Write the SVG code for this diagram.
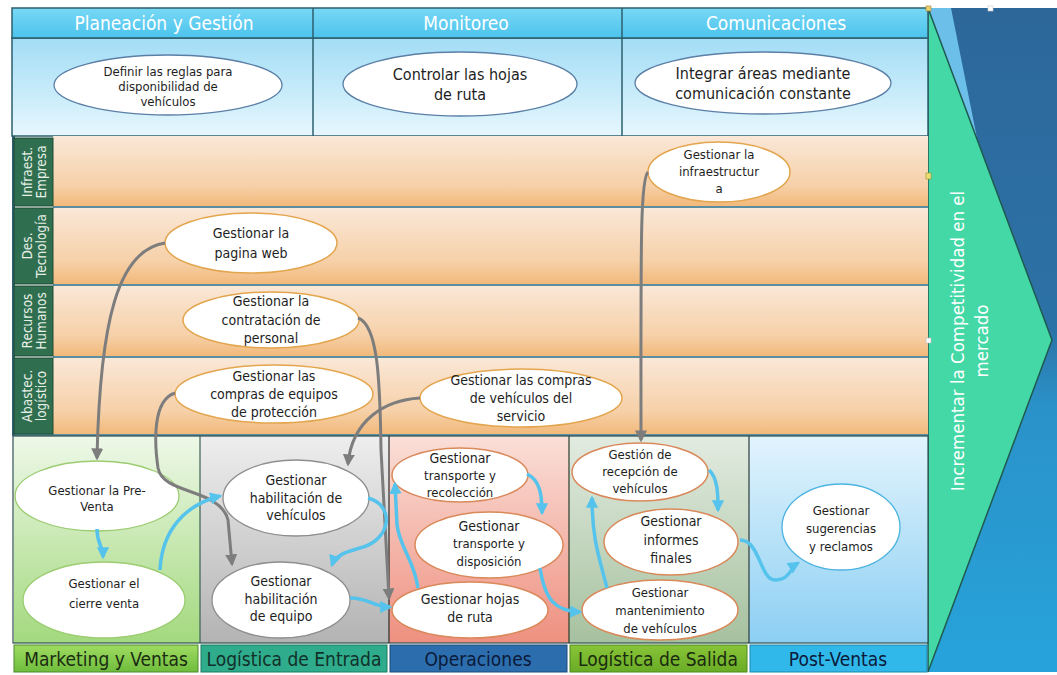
<svg xmlns="http://www.w3.org/2000/svg" width="1057" height="675" viewBox="0 0 1057 675">
<defs>
<linearGradient id="gHead" x1="0" y1="0" x2="0" y2="1"><stop offset="0" stop-color="#78d8f5"/><stop offset="1" stop-color="#4cc3ec"/></linearGradient>
<linearGradient id="gTop" x1="0" y1="0" x2="0" y2="1"><stop offset="0" stop-color="#a2ddf6"/><stop offset="1" stop-color="#e6f7fd"/></linearGradient>
<linearGradient id="gOr" x1="0" y1="0" x2="0" y2="1"><stop offset="0" stop-color="#fae8d8"/><stop offset="0.7" stop-color="#f6d0a8"/><stop offset="1" stop-color="#f2b878"/></linearGradient>
<linearGradient id="gMk" x1="0" y1="0" x2="0" y2="1"><stop offset="0" stop-color="#eef8e8"/><stop offset="1" stop-color="#a3d97e"/></linearGradient>
<linearGradient id="gEn" x1="0" y1="0" x2="0" y2="1"><stop offset="0" stop-color="#eeeeee"/><stop offset="1" stop-color="#b3b3b3"/></linearGradient>
<linearGradient id="gOp" x1="0" y1="0" x2="0" y2="1"><stop offset="0" stop-color="#fadfd8"/><stop offset="1" stop-color="#ee9080"/></linearGradient>
<linearGradient id="gSa" x1="0" y1="0" x2="0" y2="1"><stop offset="0" stop-color="#e2ebe0"/><stop offset="1" stop-color="#a6c19f"/></linearGradient>
<linearGradient id="gPo" x1="0" y1="0" x2="0" y2="1"><stop offset="0" stop-color="#e2f4fd"/><stop offset="1" stop-color="#8ccff3"/></linearGradient>
<linearGradient id="gBg" x1="0" y1="0" x2="0" y2="1"><stop offset="0" stop-color="#2d679a"/><stop offset="0.48" stop-color="#2c72a6"/><stop offset="0.6" stop-color="#2a92c8"/><stop offset="1" stop-color="#27a3db"/></linearGradient>
<linearGradient id="gMkB" x1="0" y1="0" x2="0" y2="1"><stop offset="0" stop-color="#9edc62"/><stop offset="1" stop-color="#6fbc3c"/></linearGradient>
<linearGradient id="gSaB" x1="0" y1="0" x2="0" y2="1"><stop offset="0" stop-color="#88c438"/><stop offset="1" stop-color="#6aac26"/></linearGradient>
<marker id="aG" viewBox="0 0 10 10" refX="8" refY="5" markerWidth="4" markerHeight="4" orient="auto" markerUnits="strokeWidth"><path d="M0,0 L10,5 L0,10 z" fill="#7d7d7d"/></marker>
<marker id="aB" viewBox="0 0 10 10" refX="8" refY="5" markerWidth="3.5" markerHeight="3.5" orient="auto" markerUnits="strokeWidth"><path d="M0,0 L10,5 L0,10 z" fill="#55c3ec"/></marker>
</defs>
<style>
text{font-family:"DejaVu Sans","Liberation Sans",sans-serif;font-stretch:condensed;}
.t{font-size:13px;fill:#1e1e1e;text-anchor:middle;}
.t14{font-size:14px;fill:#1e1e1e;text-anchor:middle;}
.t16{font-size:16px;fill:#1e1e1e;text-anchor:middle;}
.hd{font-size:19px;fill:#ffffff;text-anchor:middle;}
.bt{font-size:19px;text-anchor:middle;}
.lb{font-size:13.5px;fill:#e6efe6;text-anchor:middle;}
.eTop{fill:#ffffff;stroke:#5b7fa6;stroke-width:1.3;}
.eSup{fill:#ffffff;stroke:#e3a54d;stroke-width:1.5;}
.eMk{fill:#ffffff;stroke:#9ccc72;stroke-width:1.3;}
.eEn{fill:#ffffff;stroke:#8e8e8e;stroke-width:1.3;}
.eOp{fill:#ffffff;stroke:#d9895a;stroke-width:1.5;}
.ePo{fill:#ffffff;stroke:#4bb3e0;stroke-width:1.3;}
.cg{fill:none;stroke:#7d7d7d;stroke-width:3;marker-end:url(#aG);}
.cb{fill:none;stroke:#55c3ec;stroke-width:3.5;marker-end:url(#aB);}
.div{stroke:#2d5f6e;stroke-width:1.5;}
.rowline{stroke:#5c8ea2;stroke-width:2;}
</style>
<rect width="1057" height="675" fill="#ffffff"/>
<!-- right background and triangle -->
<rect x="928" y="8" width="129" height="664" fill="url(#gBg)"/>
<polygon points="928,8 951,8 977,138 950,70" fill="#6cbfe8"/>
<polygon points="928,8 928,672 1052,340" fill="#43d8a6" stroke="#1f5a50" stroke-width="1.5"/>
<text transform="translate(964,341) rotate(-90)" style="font-size:18.5px;fill:#ffffff;text-anchor:middle">Incrementar la Competitividad en el</text>
<text transform="translate(988,341) rotate(-90)" style="font-size:18.5px;fill:#ffffff;text-anchor:middle">mercado</text>
<!-- header / management -->
<g id="top-section">
<rect x="12" y="38" width="916" height="98" fill="url(#gTop)" stroke="#2d5f6e" stroke-width="1.5"/>
<rect x="12" y="8" width="916" height="30" fill="url(#gHead)" stroke="#2d5f6e" stroke-width="1.5"/>
<line class="div" x1="313" y1="8" x2="313" y2="136"/>
<line class="div" x1="622" y1="8" x2="622" y2="136"/>
<text class="hd" x="164" y="30">Planeación y Gestión</text>
<text class="hd" x="466" y="30">Monitoreo</text>
<text class="hd" x="776" y="30">Comunicaciones</text>
</g>
<g id="support-rows">
<rect x="53" y="136" width="875" height="71" fill="url(#gOr)"/>
<rect x="53" y="207" width="875" height="78" fill="url(#gOr)"/>
<rect x="53" y="285" width="875" height="72" fill="url(#gOr)"/>
<rect x="53" y="357" width="875" height="78" fill="url(#gOr)"/>
<line class="rowline" x1="53" y1="207" x2="928" y2="207"/>
<line class="rowline" x1="53" y1="285" x2="928" y2="285"/>
<line class="rowline" x1="53" y1="357" x2="928" y2="357"/>
<line class="rowline" x1="12" y1="435" x2="928" y2="435"/>
<rect x="12" y="136" width="3" height="299" fill="#2d5f6e"/>
<rect x="14" y="138" width="39" height="68" fill="#2f6e4e" stroke="#1e4d36" stroke-width="1"/>
<rect x="14" y="208" width="39" height="76" fill="#2f6e4e" stroke="#1e4d36" stroke-width="1"/>
<rect x="14" y="286" width="39" height="70" fill="#2f6e4e" stroke="#1e4d36" stroke-width="1"/>
<rect x="14" y="358" width="39" height="76" fill="#2f6e4e" stroke="#1e4d36" stroke-width="1"/>
<text class="lb" transform="translate(32,172) rotate(-90)">Infraest.</text>
<text class="lb" transform="translate(46,172) rotate(-90)">Empresa</text>
<text class="lb" transform="translate(32,246) rotate(-90)">Des.</text>
<text class="lb" transform="translate(46,246) rotate(-90)">Tecnología</text>
<text class="lb" transform="translate(32,321) rotate(-90)">Recursos</text>
<text class="lb" transform="translate(46,321) rotate(-90)">Humanos</text>
<text class="lb" transform="translate(32,396) rotate(-90)">Abastec.</text>
<text class="lb" transform="translate(46,396) rotate(-90)">logístico</text>
</g>
<g id="primary-columns">
<rect x="14" y="436" width="186" height="207" fill="url(#gMk)"/>
<rect x="200" y="436" width="189" height="207" fill="url(#gEn)"/>
<rect x="389" y="436" width="180" height="207" fill="url(#gOp)"/>
<rect x="569" y="436" width="180" height="207" fill="url(#gSa)"/>
<rect x="749" y="436" width="179" height="207" fill="url(#gPo)"/>
<rect x="13" y="436" width="915" height="207" fill="none" stroke="#2d4f4f" stroke-width="1.2"/>
<line x1="200" y1="436" x2="200" y2="643" stroke="#3f5f55" stroke-width="1.2"/>
<line x1="389" y1="436" x2="389" y2="643" stroke="#2b2b2b" stroke-width="1.2"/>
<line x1="569" y1="436" x2="569" y2="643" stroke="#2b3b2b" stroke-width="1.2"/>
<line x1="749" y1="436" x2="749" y2="643" stroke="#2b3b3b" stroke-width="1.2"/>
</g>
<g id="bottom-labels">
<rect x="14" y="645" width="184" height="27" fill="url(#gMkB)" stroke="#4c8a2a" stroke-width="1"/>
<rect x="201" y="645" width="186" height="27" fill="#2fac8b" stroke="#1d7a60" stroke-width="1"/>
<rect x="390" y="645" width="177" height="27" fill="#2c6ead" stroke="#1b4a7a" stroke-width="1"/>
<rect x="570" y="645" width="177" height="27" fill="url(#gSaB)" stroke="#4d8a1a" stroke-width="1"/>
<rect x="750" y="645" width="177" height="27" fill="#30b8ea" stroke="#1d86b0" stroke-width="1"/>
<text class="bt" x="106" y="666" fill="#1b2c12">Marketing y Ventas</text>
<text class="bt" x="294" y="666" fill="#12302a">Logística de Entrada</text>
<text class="bt" x="478" y="666" fill="#0b1a3a">Operaciones</text>
<text class="bt" x="658" y="666" fill="#1a2a10">Logística de Salida</text>
<text class="bt" x="838" y="666" fill="#0b1a3a">Post-Ventas</text>
</g>
<!-- selection handles -->
<rect x="926" y="6" width="5" height="5" fill="#e8d070" stroke="#a08030" stroke-width="0.6"/>
<rect x="926" y="173" width="5" height="6" fill="#e8e070" stroke="#a09030" stroke-width="0.6"/>
<rect x="926" y="338" width="5" height="5" fill="#ffffff" stroke="#bbbbbb" stroke-width="0.6"/>
<rect x="988" y="6" width="5" height="5" fill="#ffffff" stroke="#cccccc" stroke-width="0.6"/>
<!-- nodes: top -->
<g id="n-definir"><ellipse class="eTop" cx="168" cy="85" rx="114" ry="30"/><text class="t" x="168" y="76">Definir las reglas para</text><text class="t" x="168" y="91">disponibilidad de</text><text class="t" x="168" y="106">vehículos</text></g>
<g id="n-controlar"><ellipse class="eTop" cx="460" cy="84" rx="117" ry="32"/><text class="t16" x="460" y="80">Controlar las hojas</text><text class="t16" x="460" y="100">de ruta</text></g>
<g id="n-integrar"><ellipse class="eTop" cx="763" cy="83" rx="128" ry="31"/><text class="t16" x="763" y="79">Integrar áreas mediante</text><text class="t16" x="763" y="99">comunicación constante</text></g>
<!-- nodes: support -->
<g id="n-infra"><ellipse class="eSup" cx="719" cy="172" rx="71" ry="30"/><text class="t" x="719" y="159">Gestionar la</text><text class="t" x="719" y="176">infraestructur</text><text class="t" x="719" y="193">a</text></g>
<g id="n-web"><ellipse class="eSup" cx="251" cy="243" rx="86" ry="30"/><text class="t14" x="251" y="238">Gestionar la</text><text class="t14" x="251" y="258">pagina web</text></g>
<g id="n-contratacion"><ellipse class="eSup" cx="271" cy="320" rx="88" ry="28"/><text class="t14" x="271" y="306">Gestionar la</text><text class="t14" x="271" y="325">contratación de</text><text class="t14" x="271" y="343">personal</text></g>
<g id="n-equipos"><ellipse class="eSup" cx="274" cy="394" rx="99" ry="29"/><text class="t14" x="274" y="381">Gestionar las</text><text class="t14" x="274" y="399">compras de equipos</text><text class="t14" x="274" y="417">de protección</text></g>
<g id="n-compras-veh"><ellipse class="eSup" cx="521" cy="398" rx="101" ry="29"/><text class="t14" x="521" y="385">Gestionar las compras</text><text class="t14" x="521" y="403">de vehículos del</text><text class="t14" x="521" y="421">servicio</text></g>
<!-- nodes: primary -->
<g id="n-preventa"><ellipse class="eMk" cx="97" cy="496" rx="82" ry="35"/><text class="t" x="97" y="495">Gestionar la Pre-</text><text class="t" x="97" y="511">Venta</text></g>
<g id="n-cierre"><ellipse class="eMk" cx="104" cy="600" rx="81" ry="38"/><text class="t" x="104" y="588">Gestionar el</text><text class="t" x="104" y="608">cierre venta</text></g>
<g id="n-hab-veh"><ellipse class="eEn" cx="296" cy="498" rx="73" ry="38"/><text class="t14" x="296" y="485">Gestionar</text><text class="t14" x="296" y="503">habilitación de</text><text class="t14" x="296" y="520">vehículos</text></g>
<g id="n-hab-eq"><ellipse class="eEn" cx="281" cy="600" rx="69" ry="38"/><text class="t14" x="281" y="586">Gestionar</text><text class="t14" x="281" y="604">habilitación</text><text class="t14" x="281" y="621">de equipo</text></g>
<g id="n-recoleccion"><ellipse class="eOp" cx="460" cy="475" rx="68" ry="27"/><text class="t14" x="460" y="463">Gestionar</text><text class="t" x="460" y="480">transporte y</text><text class="t" x="460" y="497">recolección</text></g>
<g id="n-disposicion"><ellipse class="eOp" cx="489" cy="545" rx="74" ry="33"/><text class="t14" x="489" y="531">Gestionar</text><text class="t" x="489" y="548">transporte y</text><text class="t" x="489" y="566">disposición</text></g>
<g id="n-hojas"><ellipse class="eOp" cx="470" cy="610" rx="78" ry="28"/><text class="t14" x="470" y="604">Gestionar hojas</text><text class="t14" x="470" y="622">de ruta</text></g>
<g id="n-recepcion"><ellipse class="eOp" cx="640" cy="472" rx="68" ry="29"/><text class="t" x="640" y="459">Gestión de</text><text class="t" x="640" y="476">recepción de</text><text class="t" x="640" y="493">vehículos</text></g>
<g id="n-informes"><ellipse class="eOp" cx="671" cy="542" rx="67" ry="33"/><text class="t14" x="671" y="526">Gestionar</text><text class="t14" x="671" y="545">informes</text><text class="t14" x="671" y="563">finales</text></g>
<g id="n-mantenimiento"><ellipse class="eOp" cx="660" cy="610" rx="78" ry="30"/><text class="t" x="660" y="597">Gestionar</text><text class="t" x="660" y="615">mantenimiento</text><text class="t" x="660" y="633">de vehículos</text></g>
<g id="n-sugerencias"><ellipse class="ePo" cx="841" cy="527" rx="59" ry="43"/><text class="t" x="841" y="515">Gestionar</text><text class="t" x="841" y="533">sugerencias</text><text class="t" x="841" y="551">y reclamos</text></g>
<g id="connectors">
<path class="cg" d="M165,243 C118,250 100,320 97,458"/>
<path class="cg" d="M358,318 C378,325 380,380 381,450 L389,598"/>
<path class="cg" d="M175,393 C153,400 154,440 158,468 C163,495 220,488 228,520 L232,564"/>
<path class="cg" d="M420,398 C385,400 352,420 348,464"/>
<path class="cg" d="M648,172 C640,180 641,250 641,440"/>
<path class="cb" d="M97,529 C97,545 103,545 103,557"/>
<path class="cb" d="M160,570 C162,530 185,505 220,496"/>
<path class="cb" d="M368,498 C395,505 392,540 360,548 C345,552 335,556 332,565"/>
<path class="cb" d="M350,598 C370,598 372,607 390,607"/>
<path class="cb" d="M418,588 C414,560 400,548 397,525 L395,484"/>
<path class="cb" d="M527,474 C540,480 542,495 542,513"/>
<path class="cb" d="M540,568 C545,600 555,611 580,612"/>
<path class="cb" d="M607,588 C600,560 592,540 592,498"/>
<path class="cb" d="M709,470 C718,478 718,495 718,510"/>
<path class="cb" d="M740,540 C760,540 760,580 775,580 C790,580 790,568 798,563"/>
</g>
</svg>
